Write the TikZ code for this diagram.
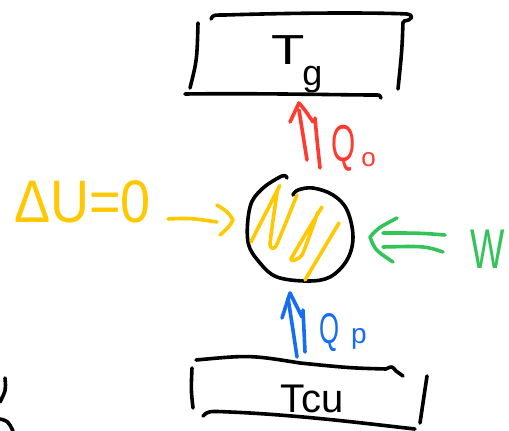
\documentclass[tikz,border=0pt]{standalone}
\usepackage{fontspec}
\setmainfont{Liberation Sans}
\definecolor{hotred}{RGB}{255,59,48}
\definecolor{coldblue}{RGB}{22,108,245}
\definecolor{sunyellow}{RGB}{255,200,0}
\definecolor{leafgreen}{RGB}{52,195,88}
\begin{document}
\begin{tikzpicture}[x=1pt,y=-1pt,
  pen/.style={line width=3.6pt, line cap=round, line join=round},
  ink/.style={pen, draw=black},
  hot/.style={pen, draw=hotred},
  cold/.style={pen, draw=coldblue},
  sun/.style={pen, draw=sunyellow},
  leaf/.style={pen, draw=leafgreen},
  lbl/.style={inner sep=0pt, outer sep=0pt, anchor=base west}]
\useasboundingbox (0,0) rectangle (509,431);

% ---------- hot reservoir T_g ----------
\draw[ink] (211,19) .. controls (213,15) .. (225,15) .. controls (320,12) and (390,13) .. (407,14) .. controls (414,15) and (413,20) .. (404,21);
\draw[ink] (403,22) .. controls (402,50) .. (398,89);
\draw[ink] (198,23) .. controls (197,60) .. (190,88);
\draw[ink] (185,94) .. controls (260,93) and (340,95) .. (375,95) .. controls (380,95) .. (381,98);
\node[lbl] (Tg) at (271,64) {\fontsize{42}{42}\selectfont\scalebox{1.3}[1]{T}\kern-2pt\raisebox{-21pt}{\fontsize{36}{36}\selectfont g}};

% ---------- heat Q_o (red) ----------
\coordinate (qoTip) at (299,103);
\draw[hot] (307,160) .. controls (303,135) .. (299,110);
\draw[hot] (320,168) .. controls (317,140) .. (315,118);
\draw[hot] (290,122) .. controls (294,112) .. (qoTip) .. controls (305,110) .. (313,122);
\node[lbl, text=hotred] (Qo) at (331,161) {\fontsize{52}{52}\selectfont\scalebox{0.6}[1]{Q}\kern6pt\raisebox{-5pt}{\fontsize{26}{26}\selectfont o}};

% ---------- system ----------
\coordinate (sys) at (300,230);
\draw[ink] plot[smooth, tension=0.6] coordinates {(287,178) (282,176) (262,189) (250,207) (248,242) (260,263) (277,277) (307,281) (330,277) (347,260) (353,237) (347,210) (333,195) (313,188) (298,190) (293,195)};
\draw[sun] plot[smooth, tension=0.3] coordinates {(251,242) (279,187) (277,193) (270,244) (276,246) (297,195)};
\draw[sun] plot[smooth, tension=0.3] coordinates {(322,207) (291,259) (302,255) (318,212)};
\draw[sun] (339,223) -- (305,280);

% ---------- Delta U = 0 (yellow) ----------
\node[lbl, text=sunyellow] (dU) at (14,222) {\fontsize{60}{60}\selectfont\scalebox{0.9}[1]{ΔU=0}};
\draw[sun] (168,219) .. controls (190,218) .. (217,222);
\draw[sun] (217,205) .. controls (228,212) .. (233,220) .. controls (229,227) .. (220,235);

% ---------- work W (green) ----------
\draw[leaf] (445,235) .. controls (420,233) .. (383,233);
\draw[leaf] (443,252) .. controls (425,246) .. (383,247);
\draw[leaf] (397,218) .. controls (378,228) .. (370,237) .. controls (375,250) .. (393,262);
\node[lbl, text=leafgreen] (W) at (470,268) {\fontsize{56}{56}\selectfont\scalebox{0.65}[1]{W}};

% ---------- heat Q_p (blue) ----------
\draw[cold] (297,357) .. controls (293,330) .. (288,298);
\draw[cold] (305,352) .. controls (304,330) .. (303,310);
\draw[cold] (282,318) .. controls (286,305) .. (290,293) .. controls (296,305) .. (302,317);
\node[lbl, text=coldblue] (Qp) at (319,343) {\fontsize{43}{43}\selectfont\scalebox{0.6}[1]{Q}\kern12pt\fontsize{28}{28}\selectfont p};

% ---------- cold reservoir T_cu ----------
\draw[ink] (196,360) .. controls (250,355) .. (300,363) .. controls (350,368) .. (386,369) .. controls (392,366) .. (396,371) .. controls (400,373) .. (403,376);
\draw[ink] (192,368) .. controls (191,390) .. (193,408);
\draw[ink] (427,376) .. controls (424,400) .. (420,423);
\draw[ink] (203,416) .. controls (208,411) .. (230,412) .. controls (300,415) and (370,424) .. (415,429);
\node[lbl] (Tcu) at (280,412) {\fontsize{40}{40}\selectfont T\kern-3pt cu};

% ---------- fragment bottom left ----------
\draw[ink] (5,378) .. controls (6,390) .. (0,402);
\draw[ink] (0,419) .. controls (8,421) .. (13,431);
\end{tikzpicture}
\end{document}
